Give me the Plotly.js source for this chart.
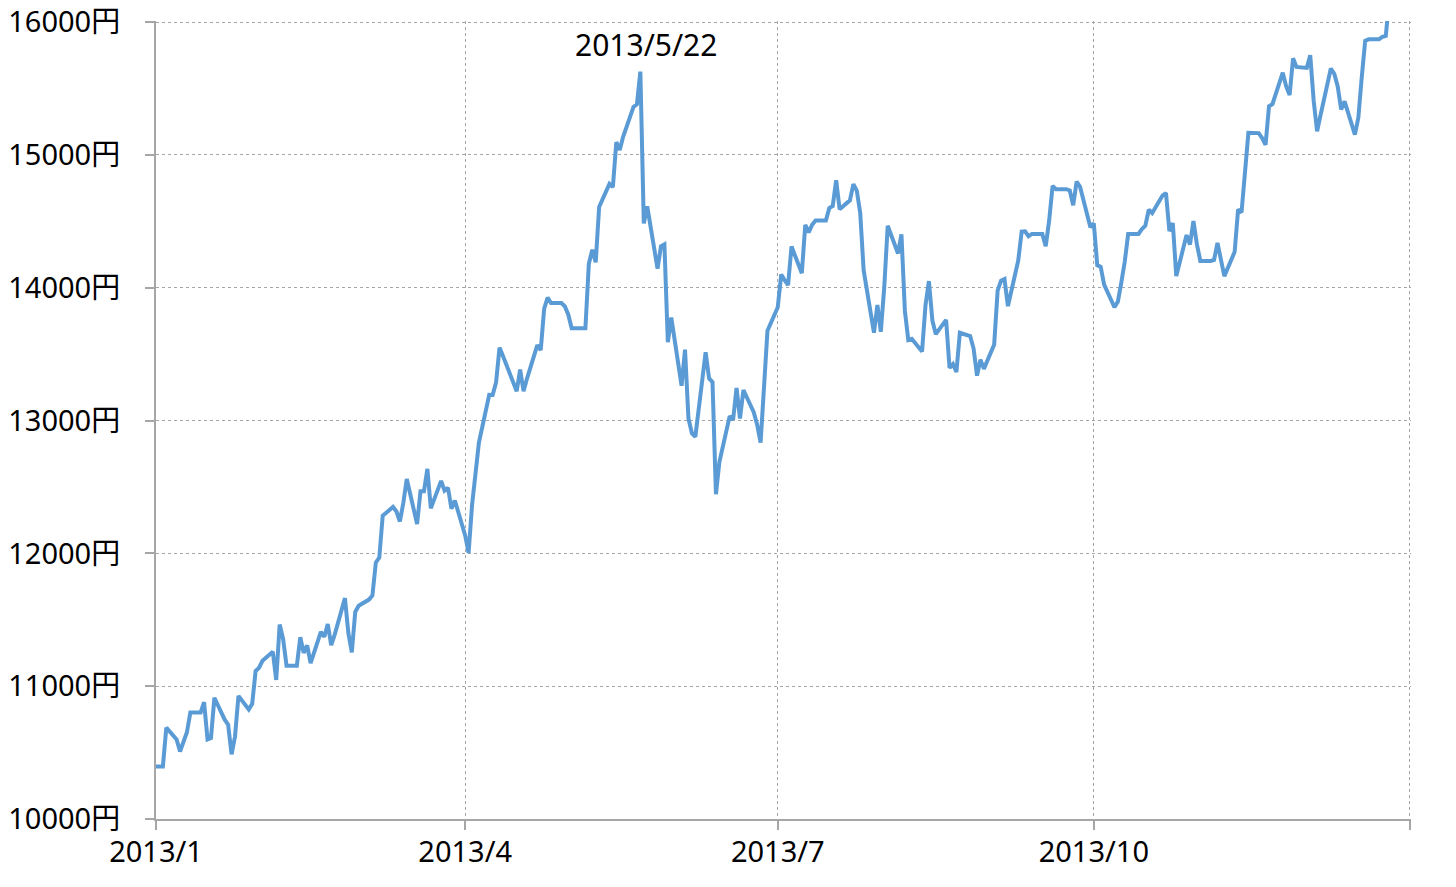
<!DOCTYPE html>
<html>
<head>
<meta charset="utf-8">
<script src="https://cdn.plot.ly/plotly-3.0.1.min.js"></script>
<style>html,body{margin:0;padding:0;background:#fff;}#chart{width:1456px;height:887px;}</style>
</head>
<body>
<div id="chart"></div>
<script>
// Trading-day dates (weekdays; market holidays repeat the previous close)
const dates = [
"2013-01-01","2013-01-02","2013-01-03","2013-01-04",
"2013-01-07","2013-01-08","2013-01-09","2013-01-10","2013-01-11",
"2013-01-14","2013-01-15","2013-01-16","2013-01-17","2013-01-18",
"2013-01-21","2013-01-22","2013-01-23","2013-01-24","2013-01-25",
"2013-01-28","2013-01-29","2013-01-30","2013-01-31","2013-02-01",
"2013-02-04","2013-02-05","2013-02-06","2013-02-07","2013-02-08",
"2013-02-11","2013-02-12","2013-02-13","2013-02-14","2013-02-15",
"2013-02-18","2013-02-19","2013-02-20","2013-02-21","2013-02-22",
"2013-02-25","2013-02-26","2013-02-27","2013-02-28","2013-03-01",
"2013-03-04","2013-03-05","2013-03-06","2013-03-07","2013-03-08",
"2013-03-11","2013-03-12","2013-03-13","2013-03-14","2013-03-15",
"2013-03-18","2013-03-19","2013-03-20","2013-03-21","2013-03-22",
"2013-03-25","2013-03-26","2013-03-27","2013-03-28","2013-03-29",
"2013-04-01","2013-04-02","2013-04-03","2013-04-04","2013-04-05",
"2013-04-08","2013-04-09","2013-04-10","2013-04-11","2013-04-12",
"2013-04-15","2013-04-16","2013-04-17","2013-04-18","2013-04-19",
"2013-04-22","2013-04-23","2013-04-24","2013-04-25","2013-04-26",
"2013-04-29","2013-04-30","2013-05-01","2013-05-02","2013-05-03",
"2013-05-06","2013-05-07","2013-05-08","2013-05-09","2013-05-10",
"2013-05-13","2013-05-14","2013-05-15","2013-05-16","2013-05-17",
"2013-05-20","2013-05-21","2013-05-22","2013-05-23","2013-05-24",
"2013-05-27","2013-05-28","2013-05-29","2013-05-30","2013-05-31",
"2013-06-03","2013-06-04","2013-06-05","2013-06-06","2013-06-07",
"2013-06-10","2013-06-11","2013-06-12","2013-06-13","2013-06-14",
"2013-06-17","2013-06-18","2013-06-19","2013-06-20","2013-06-21",
"2013-06-24","2013-06-25","2013-06-26","2013-06-27","2013-06-28",
"2013-07-01","2013-07-02","2013-07-03","2013-07-04","2013-07-05",
"2013-07-08","2013-07-09","2013-07-10","2013-07-11","2013-07-12",
"2013-07-15","2013-07-16","2013-07-17","2013-07-18","2013-07-19",
"2013-07-22","2013-07-23","2013-07-24","2013-07-25","2013-07-26",
"2013-07-29","2013-07-30","2013-07-31","2013-08-01","2013-08-02",
"2013-08-05","2013-08-06","2013-08-07","2013-08-08","2013-08-09",
"2013-08-12","2013-08-13","2013-08-14","2013-08-15","2013-08-16",
"2013-08-19","2013-08-20","2013-08-21","2013-08-22","2013-08-23",
"2013-08-26","2013-08-27","2013-08-28","2013-08-29","2013-08-30",
"2013-09-02","2013-09-03","2013-09-04","2013-09-05","2013-09-06",
"2013-09-09","2013-09-10","2013-09-11","2013-09-12","2013-09-13",
"2013-09-16","2013-09-17","2013-09-18","2013-09-19","2013-09-20",
"2013-09-23","2013-09-24","2013-09-25","2013-09-26","2013-09-27",
"2013-09-30","2013-10-01","2013-10-02","2013-10-03","2013-10-04",
"2013-10-07","2013-10-08","2013-10-09","2013-10-10","2013-10-11",
"2013-10-14","2013-10-15","2013-10-16","2013-10-17","2013-10-18",
"2013-10-21","2013-10-22","2013-10-23","2013-10-24","2013-10-25",
"2013-10-28","2013-10-29","2013-10-30","2013-10-31","2013-11-01",
"2013-11-04","2013-11-05","2013-11-06","2013-11-07","2013-11-08",
"2013-11-11","2013-11-12","2013-11-13","2013-11-14","2013-11-15",
"2013-11-18","2013-11-19","2013-11-20","2013-11-21","2013-11-22",
"2013-11-25","2013-11-26","2013-11-27","2013-11-28","2013-11-29",
"2013-12-02","2013-12-03","2013-12-04","2013-12-05","2013-12-06",
"2013-12-09","2013-12-10","2013-12-11","2013-12-12","2013-12-13",
"2013-12-16","2013-12-17","2013-12-18","2013-12-19","2013-12-20",
"2013-12-23","2013-12-24","2013-12-25","2013-12-26","2013-12-27",
"2013-12-30","2013-12-31"
];

// Closing values (yen)
const closes = [
10395,10395,10395,10688,
10599,10508,10579,10653,10802,
10802,10879,10600,10610,10913,
10748,10710,10487,10621,10927,
10824,10867,11114,11139,11191,
11260,11047,11464,11357,11153,
11153,11369,11251,11307,11174,
11408,11372,11468,11309,11386,
11663,11399,11254,11559,11606,
11652,11683,11932,11968,12284,
12349,12315,12240,12381,12560,
12221,12468,12468,12636,12339,
12546,12472,12494,12336,12398,
12135,12003,12362,12635,12834,
13193,13192,13288,13549,13485,
13276,13221,13383,13220,13316,
13568,13530,13843,13926,13884,
13884,13861,13799,13694,13694,
13694,14180,14286,14191,14608,
14782,14758,15096,15037,15138,
15361,15381,15627,14484,14612,
14143,14312,14326,13589,13775,
13262,13534,13015,12904,12878,
13514,13318,13289,12445,12687,
13033,13007,13245,13015,13230,
13063,12969,12834,13214,13677,
13853,14099,14056,14019,14310,
14109,14473,14417,14473,14506,
14506,14599,14615,14809,14590,
14658,14779,14731,14563,14130,
13661,13870,13668,14006,14466,
14258,14401,13825,13606,13615,
13519,13868,14050,13753,13650,
13758,13396,13424,13365,13661,
13636,13542,13338,13459,13389,
13573,13978,14053,14065,13861,
14205,14423,14425,14387,14405,
14405,14312,14505,14766,14742,
14742,14732,14621,14799,14760,
14456,14485,14170,14157,14024,
13853,13895,14038,14195,14405,
14405,14442,14467,14587,14562,
14694,14713,14426,14486,14088,
14396,14325,14502,14328,14202,
14202,14209,14337,14225,14087,
14270,14589,14567,14876,15166,
15164,15127,15076,15366,15382,
15619,15515,15450,15727,15662,
15655,15750,15408,15177,15300,
15650,15611,15515,15342,15403,
15153,15279,15586,15859,15870,
15870,15889,15896,16174,16179,
16291,16291
];

const tickDates = ["2013-01-01","2013-04-01","2013-07-01","2013-10-01","2014-01-01"];
const tickLabels = ["2013/1","2013/4","2013/7","2013/10",""];
const yTicks = [10000,11000,12000,13000,14000,15000,16000];
const peakLabel = "2013/5/22";
const peakDate = "2013-05-22";

const gridColor = "#A6A6A6";
const tickFont = {family: "Noto Sans, Noto Sans CJK JP, sans-serif", size: 29, color: "#000"};

const trace = {
  x: dates, y: closes, type: "scatter", mode: "lines",
  line: {color: "#5B9BD5", width: 4},
  hoverinfo: "skip"
};

const layout = {
  width: 1456, height: 887,
  margin: {l: 156, r: 45, t: 21, b: 68},
  paper_bgcolor: "#fff", plot_bgcolor: "#fff",
  showlegend: false,
  xaxis: {
    type: "date",
    range: ["2013-01-01", "2014-01-01 08:00"],
    tickmode: "array", tickvals: tickDates, ticktext: tickLabels,
    showgrid: true, gridcolor: gridColor, griddash: "dot", gridwidth: 1,
    showline: true, linecolor: gridColor, linewidth: 2,
    ticks: "outside", ticklen: 9, tickcolor: gridColor, tickwidth: 2,
    tickfont: tickFont, zeroline: false, ticklabelstandoff: -3,
    ticklabeloverflow: "allow"
  },
  yaxis: {
    range: [10000, 16008],
    tickmode: "array", tickvals: yTicks,
    ticktext: yTicks.map(v => v + "円"),
    showgrid: true, gridcolor: gridColor, griddash: "dot", gridwidth: 1,
    showline: true, linecolor: gridColor, linewidth: 2,
    ticks: "outside", ticklen: 9, tickcolor: gridColor, tickwidth: 2,
    tickfont: tickFont, zeroline: false, ticklabelstandoff: 19,
    ticklabeloverflow: "allow"
  },
  annotations: [{
    x: peakDate, y: 15834, xref: "x", yref: "y",
    text: peakLabel, showarrow: false, xshift: 6,
    font: {family: "Noto Sans, sans-serif", size: 30, color: "#000"}
  }]
};

Plotly.newPlot("chart", [trace], layout, {displayModeBar: false, staticPlot: true});
</script>
</body>
</html>
